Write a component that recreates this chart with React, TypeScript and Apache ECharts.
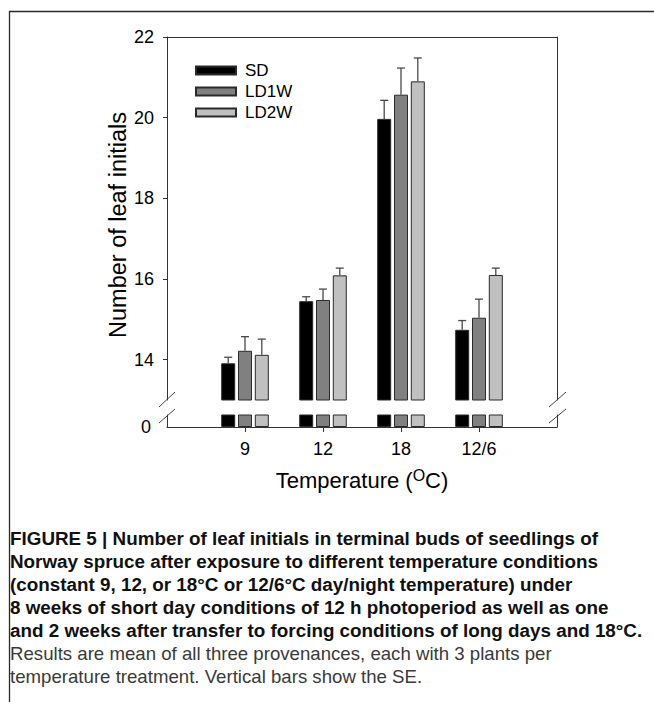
import React, { useEffect, useRef } from 'react';
import * as echarts from 'echarts';

// ---------------- data ----------------
const categories = ['9', '12', '18', '12/6'];
const seriesNames = ['SD', 'LD1W', 'LD2W'];
const sdMeans = [13.91, 15.45, 19.97, 14.74];
const ld1wMeans = [14.22, 15.48, 20.57, 15.04];
const ld2wMeans = [14.12, 16.09, 20.9, 16.1];
const sdErr = [0.15, 0.11, 0.46, 0.23];
const ld1wErr = [0.35, 0.27, 0.66, 0.46];
const ld2wErr = [0.39, 0.18, 0.58, 0.17];
const upperTicks = [14, 16, 18, 20, 22];
const lowerTicks = [0];
const yTitle = 'Number of leaf initials';
const xTitleRich = 'Temperature ({sup|O}C)';
const captionBold = [
  'FIGURE 5 | Number of leaf initials in terminal buds of seedlings of',
  'Norway spruce after exposure to different temperature conditions',
  '(constant 9, 12, or 18°C or 12/6°C day/night temperature) under',
  '8 weeks of short day conditions of 12 h photoperiod as well as one',
  'and 2 weeks after transfer to forcing conditions of long days and 18°C.',
];
const captionRegular = [
  'Results are mean of all three provenances, each with 3 plants per',
  'temperature treatment. Vertical bars show the SE.',
];

// ---------------- style ----------------
const FONT = "'Liberation Sans', Arial, Helvetica, sans-serif";
const CAPTION_FONT = "'Liberation Sans', Arial, sans-serif";
const CAPTION_SIZE = 19;
const BOLD_TARGET_W = 633; // width of the longest bold caption line
const REG_TARGET_W = 542; // width of the first regular caption line
const barColors = ['#000000', '#808080', '#c0c0c0'];
const AXIS_COLOR = '#333333';
const BAR_W = 14;
const BAR_GAP = 0.2;
const CAP = 4;

const PLOT_LEFT = 167;
const PLOT_RIGHT_MARGIN = 97;
const UPPER_TOP = 37;
const UPPER_H = 363;
const LOWER_TOP = 415;
const LOWER_H = 12;

const means = [sdMeans, ld1wMeans, ld2wMeans];
const errs = [sdErr, ld1wErr, ld2wErr];

function measure(text: string, font: string): number {
  const c = document.createElement('canvas');
  const ctx = c.getContext('2d');
  if (!ctx) return text.length * 9;
  ctx.font = font;
  return ctx.measureText(text).width;
}

export default function App() {
  const ref = useRef<HTMLDivElement>(null);
  useEffect(() => {
    if (!ref.current) return;
    const chart = echarts.init(ref.current, undefined, { renderer: 'svg' });
    const axisData = ['', ...categories, ''];
    const pad = (arr: number[]) => ['-', ...arr, '-'];

    const barSeries: any[] = [];
    [0, 1].forEach((g) => {
      seriesNames.forEach((name, s) => {
        barSeries.push({
          type: 'bar',
          name,
          xAxisIndex: g,
          yAxisIndex: g === 0 ? 0 : 2,
          data: pad(means[s]),
          barWidth: BAR_W,
          barGap: `${BAR_GAP * 100}%`,
          clip: true,
          itemStyle: { color: barColors[s], borderColor: '#2a2a2a', borderWidth: 1 },
          emphasis: { disabled: true },
          z: 2,
        });
      });
    });

    const errData: number[][] = [];
    seriesNames.forEach((_, s) => {
      categories.forEach((_c, i) => {
        errData.push([i + 1, means[s][i], errs[s][i], s]);
      });
    });

    const errSeries = {
      type: 'custom',
      name: 'SE',
      xAxisIndex: 0,
      yAxisIndex: 0,
      z: 3,
      encode: { x: 0, y: 1 },
      data: errData,
      renderItem: (_params: any, api: any) => {
        const cat = api.value(0);
        const m = api.value(1);
        const e = api.value(2);
        const s = api.value(3);
        const base = api.coord([cat, m]);
        const top = api.coord([cat, m + e]);
        const x = base[0] + (s - 1) * BAR_W * (1 + BAR_GAP);
        const st = { stroke: '#4a4a4a', lineWidth: 1.3 };
        return {
          type: 'group',
          children: [
            { type: 'line', shape: { x1: x, y1: base[1], x2: x, y2: top[1] }, style: st },
            { type: 'line', shape: { x1: x - CAP, y1: top[1], x2: x + CAP, y2: top[1] }, style: st },
          ],
        };
      },
    };

    const axisLine = { show: true, onZero: false, lineStyle: { color: AXIS_COLOR, width: 1 } };
    const slash = (x1: number, y1: number, x2: number, y2: number) => ({
      type: 'line',
      shape: { x1, y1, x2, y2 },
      style: { stroke: '#444', lineWidth: 1 },
      silent: true,
    });

    const graphics: any[] = [
      // figure frame
      { type: 'line', shape: { x1: 9, y1: 11.5, x2: 654, y2: 11.5 }, style: { stroke: '#2a2a2a', lineWidth: 1.3 } },
      { type: 'line', shape: { x1: 9.5, y1: 11, x2: 9.5, y2: 702 }, style: { stroke: '#2a2a2a', lineWidth: 1.3 } },
      // axis break marks
      slash(159, 407, 175, 392),
      slash(159, 423, 175, 409),
      slash(549, 407, 566, 392),
      slash(549, 423, 566, 409),
      // y title
      {
        type: 'text',
        x: 118,
        y: 225,
        rotation: Math.PI / 2,
        style: {
          text: yTitle,
          align: 'center',
          verticalAlign: 'middle',
          fontSize: 23.5,
          fontFamily: FONT,
          fill: '#000',
        },
      },
    ];

    const boldW = measure(captionBold[4], `bold ${CAPTION_SIZE}px ${CAPTION_FONT}`);
    const regW = measure(captionRegular[0], `${CAPTION_SIZE}px ${CAPTION_FONT}`);
    const boldScale = BOLD_TARGET_W / boldW;
    const regScale = REG_TARGET_W / regW;

    const lineY = [538, 561.5, 584.5, 607.5, 630.5, 653.5, 676.5];
    captionBold.forEach((t, i) => {
      graphics.push({
        type: 'text',
        x: 10,
        y: lineY[i],
        scaleX: boldScale,
        style: {
          text: t,
          align: 'left',
          verticalAlign: 'middle',
          fontSize: CAPTION_SIZE,
          fontWeight: 'bold',
          fontFamily: CAPTION_FONT,
          fill: '#111',
        },
      });
    });
    captionRegular.forEach((t, i) => {
      graphics.push({
        type: 'text',
        x: 10,
        y: lineY[captionBold.length + i],
        scaleX: regScale,
        style: {
          text: t,
          align: 'left',
          verticalAlign: 'middle',
          fontSize: CAPTION_SIZE,
          fontFamily: CAPTION_FONT,
          fill: '#3a3a3a',
        },
      });
    });

    chart.setOption({
      animation: false,
      backgroundColor: '#ffffff',
      textStyle: { fontFamily: FONT },
      grid: [
        { left: PLOT_LEFT, right: PLOT_RIGHT_MARGIN, top: UPPER_TOP, height: UPPER_H, containLabel: false },
        { left: PLOT_LEFT, right: PLOT_RIGHT_MARGIN, top: LOWER_TOP, height: LOWER_H, containLabel: false },
      ],
      legend: {
        data: seriesNames,
        orient: 'vertical',
        left: 190,
        top: 57,
        itemWidth: 40,
        itemHeight: 8,
        itemGap: 4,
        icon: 'rect',
        selectedMode: false,
        textStyle: { fontSize: 17, color: '#000', fontFamily: FONT, padding: [0, 0, 0, 4] },
      },
      xAxis: [
        {
          type: 'category',
          gridIndex: 0,
          data: axisData,
          boundaryGap: false,
          position: 'top',
          axisLine,
          axisTick: { show: false },
          axisLabel: { show: false },
          splitLine: { show: false },
        },
        {
          type: 'category',
          gridIndex: 1,
          data: axisData,
          boundaryGap: false,
          position: 'bottom',
          axisLine,
          axisTick: {
            show: true,
            length: 5,
            interval: (index: number) => index >= 1 && index <= categories.length,
            lineStyle: { color: AXIS_COLOR },
          },
          axisLabel: { interval: 0, fontSize: 18, color: '#000', margin: 13, fontFamily: FONT },
          splitLine: { show: false },
          name: xTitleRich,
          nameLocation: 'middle',
          nameGap: 40,
          nameTextStyle: {
            fontSize: 22,
            color: '#000',
            fontFamily: FONT,
            rich: { sup: { fontSize: 16, padding: [0, 0, 10, 0], color: '#000', fontFamily: FONT } },
          },
        },
      ],
      yAxis: [
        {
          type: 'value',
          gridIndex: 0,
          min: 13,
          max: 22,
          position: 'left',
          axisLine,
          axisTick: { show: true, length: 4, customValues: upperTicks, lineStyle: { color: AXIS_COLOR } },
          axisLabel: { customValues: upperTicks, fontSize: 18, color: '#000', margin: 13, fontFamily: FONT },
          splitLine: { show: false },
        },
        {
          type: 'value',
          gridIndex: 0,
          min: 13,
          max: 22,
          position: 'right',
          axisLine,
          axisTick: { show: false },
          axisLabel: { show: false },
          splitLine: { show: false },
        },
        {
          type: 'value',
          gridIndex: 1,
          min: 0,
          max: 1,
          position: 'left',
          axisLine,
          axisTick: { show: false, customValues: lowerTicks },
          axisLabel: { customValues: lowerTicks, fontSize: 18, color: '#000', margin: 16, fontFamily: FONT },
          splitLine: { show: false },
        },
        {
          type: 'value',
          gridIndex: 1,
          min: 0,
          max: 1,
          position: 'right',
          axisLine,
          axisTick: { show: false },
          axisLabel: { show: false },
          splitLine: { show: false },
        },
      ],
      series: [...barSeries, errSeries],
      graphic: graphics,
    });
    return () => chart.dispose();
  }, []);
  return (
    <div
      ref={ref}
      style={{ position: 'absolute', left: 0, top: 0, width: 654, height: 702, background: '#fff' }}
    />
  );
}
